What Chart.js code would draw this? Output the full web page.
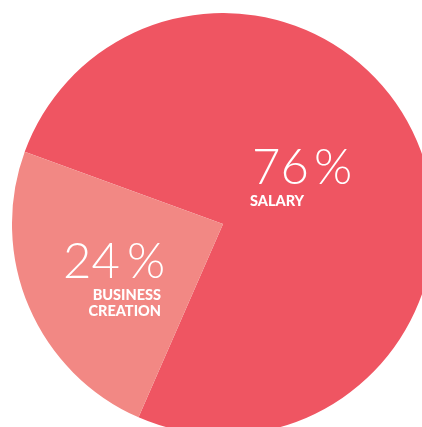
<!DOCTYPE html>
<html>
<head>
  <script src="https://cdn.jsdelivr.net/npm/chart.js"></script>
  <style>
    html, body { margin: 0; padding: 0; width: 422px; height: 427px; overflow: hidden; background: #fff; }
    #wrap { position: absolute; left: 12px; top: 13px; width: 422px; height: 422px; }
  </style>
</head>
<body>
  <div id="wrap"><canvas id="pieChart"></canvas></div>
  <script>
    // shares of founders' income source
    const labels = ['SALARY', 'BUSINESS CREATION'];
    const shares = [76, 24];
    const colors = ['#EF5562', '#F28884'];

    // label text drawn over each slice (page position minus wrapper offset)
    const labelText = [
      { num: '76', x: 240, px: 302, y: 171, lines: ['SALARY'], align: 'left', lx: 238 },
      { num: '24', x: 51, px: 115, y: 265, lines: ['BUSINESS', 'CREATION'], align: 'right', lx: 149 }
    ];

    const sliceLabels = {
      id: 'sliceLabels',
      afterDraw(chart) {
        const ctx = chart.ctx;
        ctx.save();
        ctx.fillStyle = '#fff';
        ctx.textBaseline = 'alphabetic';
        labelText.forEach(t => {
          ctx.font = '300 49px Lato';
          ctx.textAlign = 'left';
          ctx.fillText(t.num, t.x, t.y);
          ctx.fillText('%', t.px, t.y);
          ctx.font = '900 14.5px Lato';
          ctx.textAlign = t.align;
          t.lines.forEach((ln, i) => ctx.fillText(ln, t.lx, t.y + 22 + i * 16));
        });
        ctx.restore();
      }
    };

    new Chart(document.getElementById('pieChart'), {
      type: 'pie',
      data: {
        labels: labels,
        datasets: [{ data: shares, backgroundColor: colors, borderWidth: 0 }]
      },
      options: {
        responsive: true,
        maintainAspectRatio: false,
        animation: false,
        rotation: 290,
        layout: { padding: 0 },
        plugins: { legend: { display: false }, tooltip: { enabled: false } }
      },
      plugins: [sliceLabels]
    });
  </script>
</body>
</html>
